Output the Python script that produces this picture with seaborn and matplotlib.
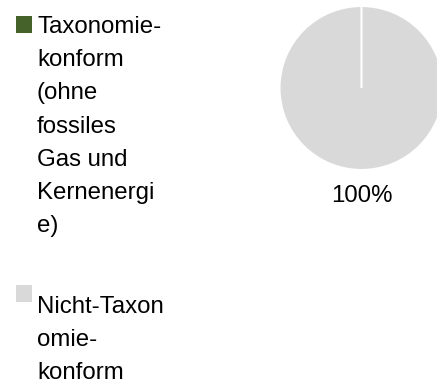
import matplotlib
matplotlib.use("Agg")
import matplotlib.pyplot as plt
import seaborn as sns
from matplotlib.patches import Rectangle

# Share of the portfolio by EU-taxonomy alignment
categories = [
    "Taxonomie-konform (ohne fossiles Gas und Kernenergie)",
    "Nicht-Taxonomie-konform",
]
legend_lines = [
    ["Taxonomie-", "konform", "(ohne", "fossiles", "Gas und", "Kernenergi", "e)"],
    ["Nicht-Taxon", "omie-", "konform"],
]
shares = [0, 100]
colors = ["#44622a", "#d9d9d9"]

sns.set_theme(style="white")
plt.rcParams["font.family"] = ["Liberation Sans", "DejaVu Sans"]

W, H = 437, 382
fig = plt.figure(figsize=(W / 100, H / 100), dpi=100)
fig.patch.set_facecolor("white")

# Pie on the right
cx, cy, r = 361.5, 88, 82
ax = fig.add_axes([(cx - r) / W, 1 - (cy + r) / H, 2 * r / W, 2 * r / H])
wedges, _ = ax.pie(
    shares,
    colors=colors,
    startangle=90,
    counterclock=False,
    radius=1,
    wedgeprops=dict(edgecolor="white", linewidth=1.5),
)
wedges[0].set_zorder(5)
ax.set_xlim(-1, 1)
ax.set_ylim(-1, 1)
ax.set_aspect("equal")
ax.axis("off")

fs = 17.3
ax.text(0, -1.317, f"{shares[1]:.0f}%", ha="center", va="center",
        fontsize=fs, color="black", clip_on=False)

# Legend on the left, labels wrapped line by line
step = 33.2
for lines, color, base, sq_top in zip(legend_lines, colors, [33, 313], [16, 285]):
    fig.patches.append(
        Rectangle((16 / W, 1 - (sq_top + 16.5) / H), 16 / W, 16.5 / H,
                  transform=fig.transFigure, facecolor=color, edgecolor="none")
    )
    for i, line in enumerate(lines):
        fig.text(37 / W, 1 - (base + i * step) / H, line, fontsize=fs,
                 va="baseline", ha="left", color="black")

fig.savefig("out.png", dpi=100)
